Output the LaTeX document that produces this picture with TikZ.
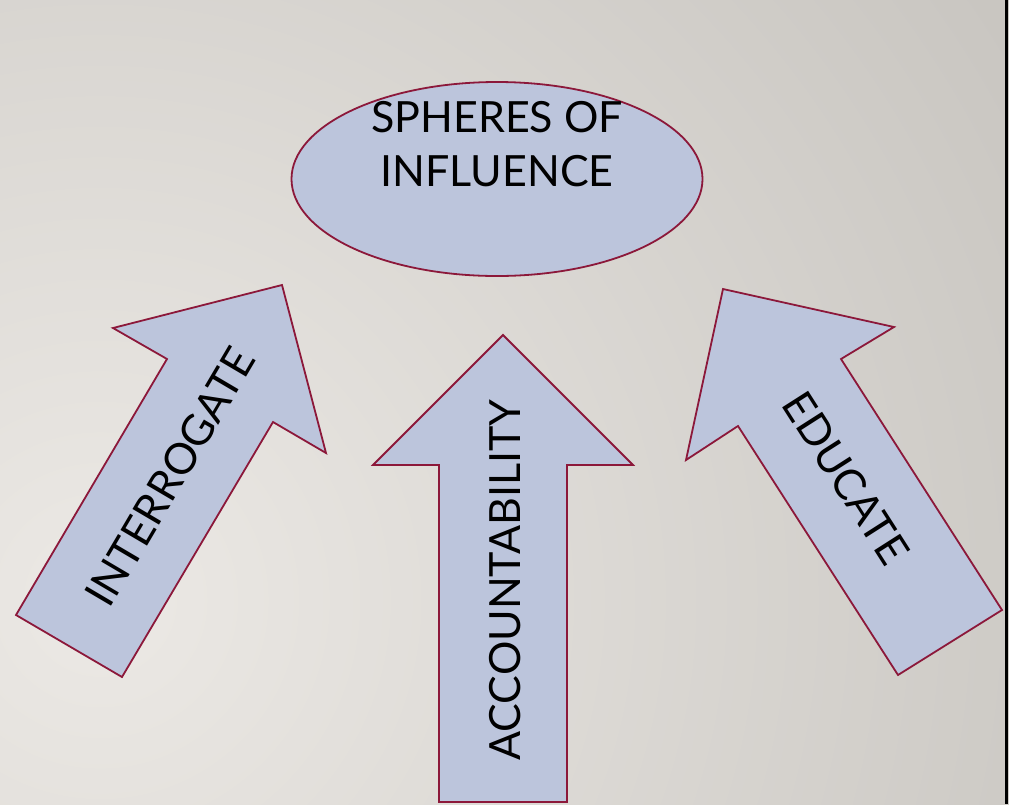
\documentclass[tikz,border=0pt]{standalone}
\usepackage{fontspec}
\setmainfont{Lato}
\usetikzlibrary{shapes.geometric}
\definecolor{shapefill}{RGB}{188,197,220}
\definecolor{shapeline}{RGB}{140,24,58}
\definecolor{bginner}{RGB}{236,233,229}
\definecolor{bgouter}{RGB}{200,197,192}
\tikzset{
  shapestyle/.style={fill=shapefill, draw=shapeline, line width=1.8pt, line join=miter},
  labeltext/.style={inner sep=0pt, font=\fontsize{43}{54}\selectfont, text=black},
}
\begin{document}
\begin{tikzpicture}[x=1pt,y=-1pt]
\useasboundingbox (0,0) rectangle (1009,804);
\begin{scope}
  \clip (0,0) rectangle (1009,804);
  \shade[inner color=bginner, outer color=bgouter] (100,600) circle (1100);
\end{scope}
\draw[black, line width=2.2pt] (1006.5,0) -- (1006.5,804);

% ellipse
\node[ellipse, shapestyle, minimum width=411pt, minimum height=194pt, inner sep=0pt] (sphere) at (497,179) {};
\node[labeltext, align=center] (spheretext) at (497,144) {SPHERES OF\\INFLUENCE};

% left arrow
\draw[shapestyle] (282,285) -- (326,453) -- (273,422) -- (122,677) -- (16,615) -- (167,359) -- (113,328) -- cycle;
\node[labeltext, rotate=59.5] (interrogate) at (170,477) {INTERROGATE};

% centre arrow
\draw[shapestyle] (503,335) -- (633,465) -- (567,465) -- (567,802) -- (439,802) -- (439,465) -- (373,465) -- cycle;
\node[labeltext, rotate=90] (accountability) at (505,580) {ACCOUNTABILITY};

% right arrow
\draw[shapestyle] (723,289) -- (894,327) -- (841,359) -- (1002,610) -- (898,675) -- (738,426) -- (686,460) -- cycle;
\node[labeltext, rotate=-57.4] (educate) at (846,478) {EDUCATE};
\end{tikzpicture}
\end{document}
